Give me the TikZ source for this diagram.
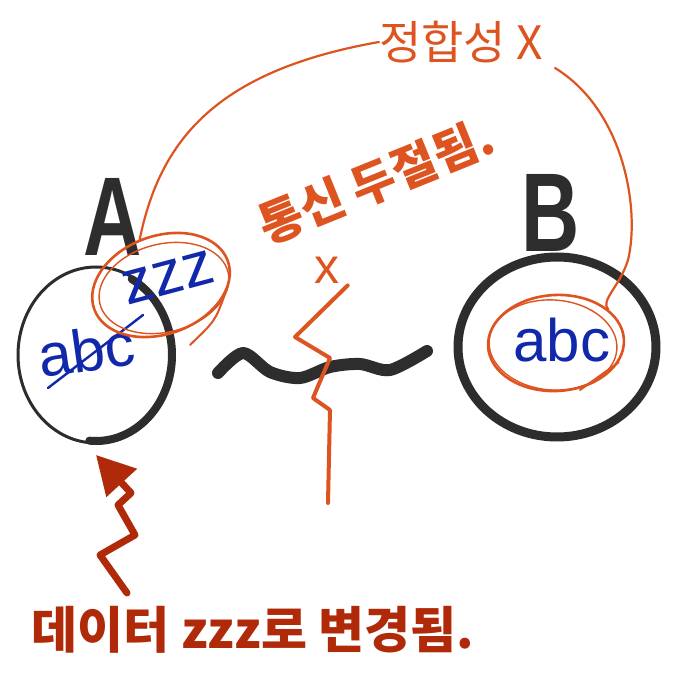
\documentclass[tikz,border=0pt]{standalone}
\usepackage{fontspec}
\newfontfamily\krfont{Noto Sans CJK KR}
\newfontfamily\latfont{Liberation Sans}
\usetikzlibrary{positioning}
\usetikzlibrary{arrows.meta}
\usetikzlibrary{shapes.geometric}
\definecolor{penred}{RGB}{222,84,32}
\definecolor{darkpen}{RGB}{176,42,10}
\definecolor{penblue}{RGB}{18,40,170}
\definecolor{penblack}{RGB}{45,45,45}

\begin{document}
\begin{tikzpicture}[x=1pt, y=1pt,
    redpen/.style={draw=penred, line width=2.2pt, line cap=round, line join=round},
    blackpen/.style={draw=penblack, line cap=round, line join=round},
    ring/.style={ellipse, draw=penred, line width=2.6pt, inner sep=0pt},
    krtext/.style={text=penred, inner sep=0pt, font=\krfont\bfseries\fontsize{48}{50}\selectfont},
    bluetext/.style={text=penblue, inner sep=0pt, font=\latfont\fontsize{60}{60}\selectfont},
    bigletter/.style={text=penblack, inner sep=0pt, font=\latfont\bfseries\fontsize{112}{112}\selectfont}]
    % Canvas
    \fill[white] (0,0) rectangle (673,681);
    \useasboundingbox (0,0) rectangle (673,681);

    % Server A
    \node[bigletter] (labA) at (113,464) {\scalebox{0.72}[1]{A}};
    \node[ellipse, blackpen, line width=3pt, minimum width=156pt, minimum height=176pt, inner sep=0pt] (circA) at (96,326) {};
    \draw[blackpen, line width=8pt] (circA.center) ++(-95:76pt and 86pt) arc[start angle=-95, end angle=62, x radius=76pt, y radius=86pt];
    \node[bluetext, rotate=8] (abcA) at (86,331) {abc};
    \draw[draw=penblue, line width=2.4pt, line cap=round] (48,293) -- (143,366);
    \node[bluetext, font=\latfont\fontsize{62}{62}\selectfont, rotate=15] (zzzA) at (168,403) {zzz};
    \node[ring, minimum width=142pt, minimum height=98pt, rotate=20] (zzzring) at (161,396) {};
    \node[ring, line width=1.4pt, minimum width=132pt, minimum height=88pt, rotate=14] (zzzring2) at (164,393) {};
    \draw[redpen, line width=2pt] (zzzring.-30) .. controls (215,360) .. (190,336);

    % Server B
    \node[bigletter] (labB) at (551,468) {\scalebox{0.72}[1]{B}};
    \node[ellipse, blackpen, line width=9pt, minimum width=198pt, minimum height=180pt, inner sep=0pt] (circB) at (557,334) {};
    \node[bluetext] (abcB) at (562,341) {abc};
    \node[ring, minimum width=136pt, minimum height=96pt, rotate=3] (ringB) at (556,338) {};
    \node[ring, line width=1.4pt, minimum width=128pt, minimum height=90pt, rotate=-4] (ringB2) at (553,336) {};
    \draw[redpen, line width=2pt] (ringB.-20) -- (580,291);

    % Consistency link between the two copies
    \node[krtext, font=\krfont\fontsize{46}{48}\selectfont] (cons) at (461,639) {정합성 X};
    \draw[redpen, line width=2.2pt] (zzzring.95) .. controls (160,540) and (215,610) .. (cons.west);
    \draw[redpen, line width=2.2pt] (cons.east) ++(12,-26) .. controls (625,570) and (640,470) .. (628,421) .. controls (620,395) and (600,380) .. (ringB.30);

    % Network cut
    \draw[blackpen, line width=12pt] plot[smooth] coordinates {(218,308) (243,328) (270,309) (300,303) (330,314) (360,317) (390,311) (427,330)};
    \node[krtext, rotate=22] (cut) at (376,500) {통신 두절됨.};
    \node[krtext, font=\latfont\fontsize{50}{50}\selectfont] (cutx) at (327,411) {x};
    \draw[redpen, line width=4pt] (cutx.south east) ++(8,-2) -- (295,344) -- (330,323) -- (313,283) -- (330,271) -- (328,178);

    % Incoming write
    \node[krtext, text=darkpen, font=\krfont\bfseries\fontsize{50}{52}\selectfont] (write) at (253,51) {데이터 zzz로 변경됨.};
    \coordinate (wtail) at (127,88);
    \draw[draw=darkpen, line width=7pt, line join=round, line cap=round, -{Triangle[length=38pt, width=40pt]}]
        (wtail) -- (100,126) -- (135,146) -- (118,176) -- (131,188) -- (circA.south |- 0,226);
\end{tikzpicture}
\end{document}
